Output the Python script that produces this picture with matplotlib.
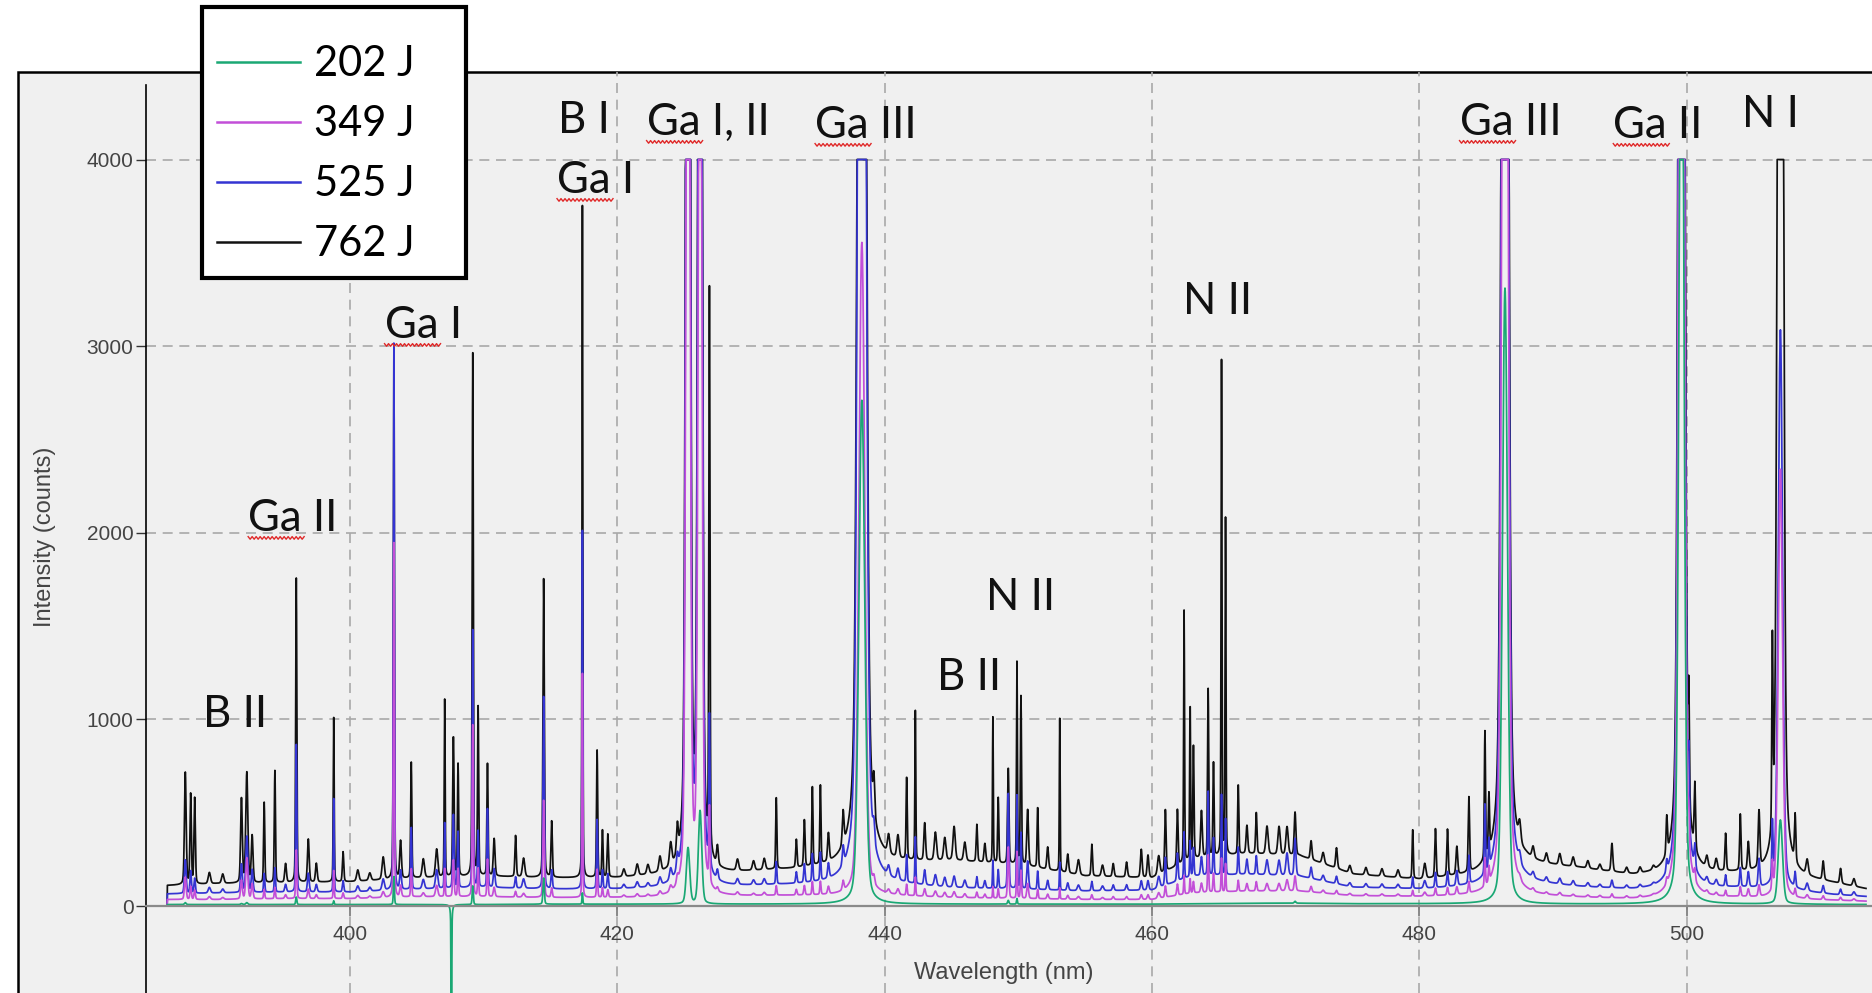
import numpy as np
import matplotlib.pyplot as plt
from matplotlib.patches import Rectangle
from matplotlib.lines import Line2D

plt.rcParams['font.family'] = ['Liberation Sans', 'DejaVu Sans']

W, H = 1872, 993

# series (legend order)
energy_labels = ['202 J', '349 J', '525 J', '762 J']
colors = ['#1aa874', '#c24fd8', '#3434d2', '#111111']

# emission lines: centre (nm), width (nm),
# height above the continuum for each shot energy
line_nm = [
    387.7, 388.1, 388.4, 389.5, 390.5, 391.9, 392.3, 392.7, 393.6, 394.4,
    395.2, 396.0, 396.9, 397.5, 398.8, 399.5, 400.6, 401.5, 402.5, 403.3,
    403.8, 404.6, 405.5, 406.5, 407.1, 407.6, 407.75, 408.1, 409.2, 409.6,
    410.3, 410.8, 412.4, 413.0, 414.5, 415.1, 417.4, 418.5, 418.9, 419.3,
    420.5, 421.5, 422.3, 423.2, 424.0, 424.5, 425.3, 426.2, 426.9, 427.5,
    429.0, 430.2, 431.0, 431.9, 433.4, 434.0, 434.6, 435.2, 435.8, 436.9,
    438.3, 439.2, 440.3, 441.0, 441.65, 442.3, 443.0, 443.8, 444.5, 445.2,
    446.0, 446.9, 447.5, 448.1, 448.5, 449.25, 449.9, 450.2, 450.7, 451.45,
    452.2, 453.1, 453.7, 454.5, 455.5, 456.3, 457.1, 458.1, 459.2, 459.7,
    460.5, 461.0, 461.9, 462.4, 462.85, 463.1, 463.7, 464.2, 464.6, 465.2,
    465.5, 466.45, 467.1, 467.8, 468.6, 469.5, 470.1, 470.7, 471.9, 472.8,
    473.8, 474.8, 476.0, 477.2, 478.4, 479.5, 480.4, 481.2, 482.1, 482.8,
    483.7, 484.9, 485.2, 486.4, 487.5, 488.5, 489.5, 490.5, 491.5, 492.6,
    493.5, 494.4, 495.5, 496.5, 497.5, 498.5, 499.6, 500.15, 500.6, 501.5,
    502.2, 502.9, 504.0, 504.6, 505.4, 506.4, 507.0, 508.1, 509.0, 510.2,
    511.5, 512.5,
]
line_fwhm = [
    0.15, 0.12, 0.12, 0.2, 0.2, 0.15, 0.18, 0.15, 0.1, 0.1,
    0.15, 0.1, 0.15, 0.15, 0.08, 0.12, 0.2, 0.2, 0.2, 0.09,
    0.15, 0.1, 0.2, 0.2, 0.08, 0.04, 0.12, 0.1, 0.1, 0.1,
    0.1, 0.15, 0.12, 0.2, 0.12, 0.12, 0.07, 0.1, 0.1, 0.12,
    0.2, 0.2, 0.2, 0.2, 0.2, 0.15, 0.3, 0.3, 0.1, 0.15,
    0.2, 0.2, 0.2, 0.1, 0.12, 0.12, 0.1, 0.1, 0.15, 0.15,
    0.52, 0.15, 0.2, 0.2, 0.1, 0.08, 0.15, 0.2, 0.2, 0.2,
    0.2, 0.12, 0.15, 0.07, 0.1, 0.12, 0.08, 0.1, 0.15, 0.1,
    0.15, 0.07, 0.15, 0.2, 0.12, 0.2, 0.15, 0.15, 0.15, 0.15,
    0.2, 0.12, 0.12, 0.08, 0.08, 0.1, 0.15, 0.1, 0.1, 0.08,
    0.08, 0.1, 0.15, 0.12, 0.2, 0.2, 0.2, 0.15, 0.15, 0.2,
    0.15, 0.2, 0.2, 0.2, 0.2, 0.1, 0.2, 0.12, 0.12, 0.15,
    0.12, 0.1, 0.1, 0.44, 0.2, 0.2, 0.2, 0.2, 0.2, 0.2,
    0.2, 0.15, 0.2, 0.2, 0.2, 0.12, 0.4, 0.1, 0.12, 0.2,
    0.2, 0.12, 0.12, 0.15, 0.15, 0.1, 0.38, 0.12, 0.2, 0.15,
    0.15, 0.2,
]
h_762 = [
    600, 480, 460, 60, 50, 450, 590, 250, 430, 600,
    100, 1630, 230, 100, 880, 160, 60, 40, 120, 2850,
    200, 620, 100, 150, 950, 0, 760, 600, 2800, 900,
    600, 200, 220, 100, 1600, 300, 3600, 680, 250, 230,
    40, 60, 50, 80, 120, 150, 12000, 10000, 3000, 100,
    60, 50, 60, 380, 150, 250, 420, 420, 150, 180,
    14000, 200, 100, 120, 450, 800, 200, 150, 120, 180,
    100, 200, 100, 780, 350, 520, 1080, 900, 300, 330,
    120, 820, 100, 80, 170, 60, 70, 80, 150, 120,
    100, 330, 300, 1350, 850, 600, 250, 900, 500, 2650,
    1800, 380, 150, 220, 150, 150, 150, 230, 100, 60,
    110, 40, 40, 40, 40, 260, 80, 260, 250, 150,
    400, 680, 300, 14000, 100, 60, 50, 60, 50, 40,
    30, 150, 30, 30, 20, 200, 14000, 550, 350, 60,
    60, 200, 300, 150, 300, 1000, 12000, 250, 80, 100,
    80, 40,
]
h_525 = [
    180, 120, 80, 30, 20, 150, 300, 120, 100, 130,
    40, 790, 100, 40, 500, 60, 30, 20, 60, 2930,
    100, 330, 50, 100, 350, 0, 400, 300, 1380, 300,
    420, 100, 60, 50, 1030, 100, 1920, 370, 100, 80,
    20, 30, 20, 40, 60, 80, 10000, 9000, 800, 50,
    30, 25, 30, 120, 60, 100, 150, 150, 80, 100,
    12000, 100, 50, 60, 150, 250, 80, 60, 50, 60,
    40, 60, 40, 150, 100, 520, 500, 300, 150, 100,
    50, 150, 40, 30, 50, 25, 30, 30, 50, 50,
    60, 150, 150, 250, 200, 150, 100, 450, 200, 430,
    300, 150, 80, 100, 80, 80, 120, 200, 60, 30,
    40, 20, 20, 20, 20, 60, 40, 80, 80, 80,
    150, 370, 150, 12000, 50, 30, 25, 30, 25, 20,
    15, 40, 15, 15, 10, 60, 12000, 350, 120, 30,
    30, 60, 100, 80, 150, 300, 3000, 80, 40, 40,
    30, 20,
]
h_349 = [
    120, 70, 50, 15, 10, 100, 220, 80, 50, 60,
    20, 260, 50, 20, 150, 30, 15, 10, 30, 1900,
    60, 150, 20, 60, 150, 0, 200, 150, 920, 150,
    200, 50, 30, 20, 520, 50, 1200, 150, 50, 40,
    10, 15, 10, 20, 30, 40, 8000, 6000, 400, 20,
    15, 10, 15, 50, 30, 50, 70, 70, 40, 50,
    3500, 40, 20, 30, 60, 100, 40, 30, 25, 30,
    20, 30, 20, 60, 50, 280, 250, 150, 80, 50,
    25, 60, 20, 15, 25, 10, 15, 15, 25, 25,
    30, 60, 60, 100, 80, 60, 50, 200, 100, 180,
    150, 60, 40, 50, 40, 40, 60, 80, 30, 15,
    20, 10, 10, 10, 10, 30, 20, 40, 40, 40,
    60, 150, 80, 9000, 20, 15, 10, 15, 10, 10,
    10, 20, 10, 10, 5, 30, 10000, 150, 60, 15,
    15, 30, 50, 40, 60, 150, 2300, 40, 20, 20,
    15, 10,
]
h_202 = [
    10, 0, 0, 0, 0, 5, 10, 0, 0, 0,
    0, 40, 0, 0, 20, 0, 0, 0, 0, 150,
    0, 0, 0, 0, 0, -3000, 0, 0, 100, 0,
    0, 0, 0, 0, 140, 0, 60, 0, 0, 0,
    0, 0, 0, 0, 0, 0, 300, 500, 0, 0,
    0, 0, 0, 0, 0, 0, 0, 0, 0, 0,
    2700, 0, 0, 0, 0, 0, 0, 0, 0, 0,
    0, 0, 0, 0, 0, 20, 30, 0, 0, 0,
    0, 0, 0, 0, 0, 0, 0, 0, 0, 0,
    0, 0, 0, 0, 0, 0, 0, 0, 0, 0,
    0, 0, 0, 0, 0, 0, 0, 10, 0, 0,
    0, 0, 0, 0, 0, 0, 0, 0, 0, 0,
    0, 0, 0, 3300, 0, 0, 0, 0, 0, 0,
    0, 0, 0, 0, 0, 0, 6000, 0, 0, 0,
    0, 0, 0, 0, 0, 0, 450, 0, 0, 0,
    0, 0,
]

# continuum level of each series
cont_nm = [385.0, 386.3, 386.35, 390, 395, 400, 405, 410, 415, 420, 424, 428, 432,
           436, 440, 445, 450, 455, 460, 463, 467, 471, 475, 480, 484, 488, 492,
           496, 500, 504, 508, 511, 513.4]
cont_762 = [0, 0, 110, 120, 125, 130, 150, 160, 150, 150, 165, 170, 190, 200, 220,
            240, 220, 160, 150, 250, 280, 270, 170, 140, 160, 220, 200, 160, 160,
            170, 150, 120, 90]
cont_525 = [0, 0, 65, 70, 75, 75, 90, 100, 90, 90, 95, 100, 110, 115, 115, 95, 90,
            80, 85, 160, 170, 160, 100, 90, 100, 120, 100, 85, 85, 95, 80, 60, 50]
cont_349 = [0, 0, 35, 35, 40, 40, 50, 50, 45, 45, 45, 50, 55, 55, 55, 45, 40, 35,
            35, 70, 80, 80, 55, 50, 55, 55, 45, 35, 35, 45, 35, 30, 25]
cont_202 = [0, 0, 8, 8, 8, 8, 8, 8, 10, 10, 10, 10, 10, 10, 10, 10, 10, 10, 10, 12,
            15, 15, 12, 12, 12, 10, 10, 10, 10, 10, 10, 8, 8]

start_nm = 386.35
saturation = 4000

# line labels
ann_text = ['B II', 'Ga II', 'Ga I', 'B I', 'Ga I', 'Ga I, II', 'Ga III', 'B II',
            'N II', 'N II', 'Ga III', 'Ga II', 'N I']
ann_nm = [389.0, 392.4, 402.6, 415.6, 415.5, 422.2, 434.8, 443.9, 447.6, 462.3,
          483.0, 494.5, 504.1]
ann_y = [959, 2010, 3044, 4143, 3821, 4132, 4116, 1158, 1586, 3173, 4132, 4116, 4175]

wl = np.arange(385.0, 513.42, 0.02)


def spectrum(heights, cont):
    y = np.interp(wl, cont_nm, cont)
    for c, w, h in zip(line_nm, line_fwhm, heights):
        if h == 0:
            continue
        d = (wl - c) / w
        y = y + h * (0.72 * np.exp(-4 * np.log(2) * d ** 2) + 0.28 / (1 + 4 * d ** 2))
    y[wl < start_nm] = 0
    return np.minimum(y, saturation)


series = [(h_202, cont_202), (h_349, cont_349), (h_525, cont_525), (h_762, cont_762)]

fig = plt.figure(figsize=(W / 100, H / 100), dpi=100)
fig.patch.set_facecolor('white')
fig.add_artist(Rectangle((18 / W, -0.1), 1.2, 1.1 - 72 / H, transform=fig.transFigure,
                         facecolor='#f0f0f0', edgecolor='black', lw=1.8, zorder=-1))

ax = fig.add_axes([146 / W, 0, 1 - 146 / W, 1 - 72 / H])
ax.set_facecolor('none')

handles = [None] * 4
for i in [3, 2, 1, 0]:
    hs, cont = series[i]
    handles[i], = ax.plot(wl, spectrum(hs, cont), color=colors[i], lw=1.25,
                          label=energy_labels[i])

ax.set_xlim(384.76, 513.85)
ax.set_ylim(-466, 4469)
ax.set_xticks([400, 420, 440, 460, 480, 500])
ax.set_yticks([0, 1000, 2000, 3000, 4000])
ax.grid(True, color='#a9a9a9', lw=1.2, linestyle=(0, (6, 4)))
ax.set_axisbelow(True)

for s in ['top', 'right']:
    ax.spines[s].set_visible(False)
ax.spines['left'].set_bounds(-466, 4397)
ax.spines['left'].set_linewidth(1.2)
ax.spines['bottom'].set_position(('data', 0))
ax.spines['bottom'].set_color('#8a8a8a')
ax.spines['bottom'].set_linewidth(1.6)

ax.tick_params(axis='y', direction='out', length=7, width=1, color='#333333',
               labelsize=15, labelcolor='#444444', pad=2)
ax.tick_params(axis='x', direction='out', length=7, width=1.2, color='#777777',
               labelsize=15, labelcolor='#444444', pad=6.5)

ax.set_xlabel('Wavelength (nm)', fontsize=17, color='#444444')
ax.set_ylabel('Intensity (counts)', fontsize=17, color='#444444')
ax.xaxis.set_label_coords(0.497, 0.0337)
ax.yaxis.set_label_coords(-0.0521, 0.495)

ann_font = dict(family='Lato', size=31.5, color='#111111')
texts = []
for t, x, y in zip(ann_text, ann_nm, ann_y):
    texts.append(ax.text(x, y, t, ha='left', va='baseline', **ann_font))

leg = fig.legend(handles, energy_labels, loc='upper left',
                 bbox_to_anchor=(202 / W, 1 - 277 / H, 264 / W, 270 / H), mode='expand',
                 frameon=True, fancybox=False, edgecolor='black', framealpha=1,
                 borderpad=0.36, handlelength=2.0, handletextpad=0.34,
                 labelspacing=0.53, borderaxespad=0,
                 title=' ', title_fontsize=1,
                 prop=dict(family='Lato', size=30))
leg.get_frame().set_linewidth(3)
leg.set_zorder(5)
for ln in leg.get_lines():
    ln.set_linewidth(1.8)

# red squiggly underline under "Ga"
fig.canvas.draw()
renderer = fig.canvas.get_renderer()
inv = fig.transFigure.inverted()
for t, x, y in zip(ann_text, ann_nm, ann_y):
    if not t.startswith('Ga'):
        continue
    tmp = ax.text(x, y, 'Ga', ha='left', va='baseline', **ann_font)
    bb = tmp.get_window_extent(renderer)
    tmp.remove()
    yb = ax.transData.transform((x, y))[1] - 7
    xs = np.arange(bb.x0, bb.x1 + 3, 2.0)
    ys = yb + np.where(np.arange(len(xs)) % 2 == 0, 1.3, -1.3)
    pts = inv.transform(np.column_stack([xs, ys]))
    fig.add_artist(Line2D(pts[:, 0], pts[:, 1], transform=fig.transFigure,
                          color='#e02828', lw=1.0, zorder=3))

fig.savefig('out.png', dpi=100)
